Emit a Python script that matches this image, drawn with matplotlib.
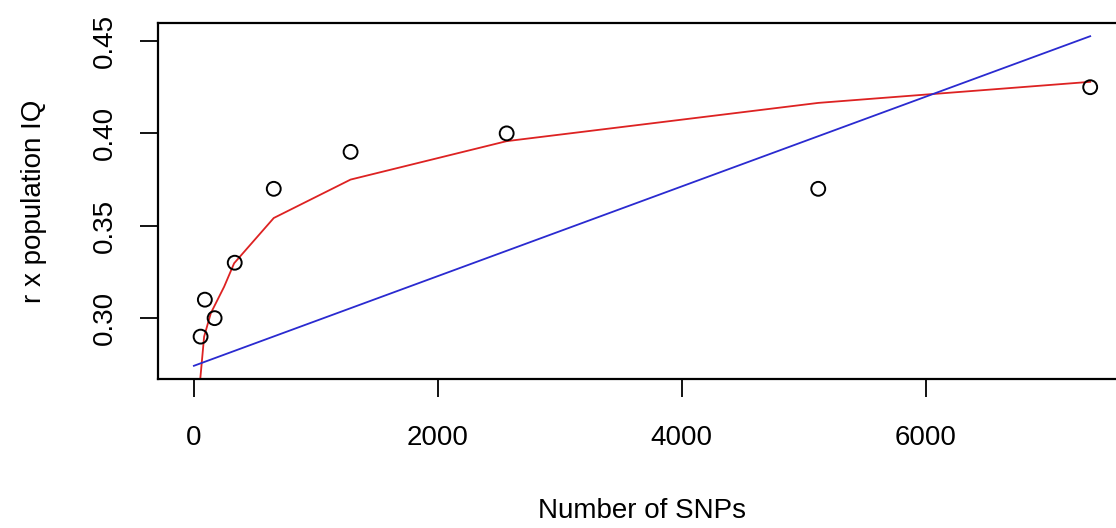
import matplotlib
matplotlib.use("Agg")
import matplotlib.pyplot as plt

plt.rcParams["font.family"] = ["Liberation Sans", "DejaVu Sans"]

# observed points
n_snps = [55, 90, 170, 335, 655, 1285, 2565, 5120, 7350]
r_iq = [0.29, 0.31, 0.30, 0.33, 0.37, 0.39, 0.40, 0.37, 0.425]

# log fit (red)
log_x = [40, 52, 84, 139, 248, 330, 655, 1285, 2565, 5120, 7350]
log_y = [0.255, 0.2668, 0.290, 0.3027, 0.317, 0.3297, 0.3542, 0.375, 0.3958, 0.4165, 0.4279]

# linear fit (blue)
lin_x = [0, 7350]
lin_y = [0.2742, 0.4526]

fig = plt.figure(figsize=(11.16, 5.28), dpi=100)
ax = fig.add_axes([0.1416, 0.2822, 0.8674, 0.6742])

ax.plot(log_x, log_y, color="#dd2222", lw=1.3)
ax.plot(lin_x, lin_y, color="#2a2ad0", lw=1.3)
ax.scatter(n_snps, r_iq, s=100, facecolors="none", edgecolors="black", linewidths=1.4, zorder=3)

xr = max(lin_x) - min(lin_x)
ax.set_xlim(min(lin_x) - 0.04 * xr, max(lin_x) + 0.04 * xr)
yr = max(lin_y) - min(lin_y)
ax.set_ylim(min(lin_y) - 0.04 * yr, max(lin_y) + 0.04 * yr)

ax.set_xticks([0, 2000, 4000, 6000])
ax.set_yticks([0.30, 0.35, 0.40, 0.45])
ax.set_yticklabels(["0.30", "0.35", "0.40", "0.45"], rotation=90, va="center")
ax.tick_params(length=13, width=1.3, labelsize=20, colors="black")
ax.tick_params(axis="x", pad=20)
ax.tick_params(axis="y", pad=16)
for s in ax.spines.values():
    s.set_linewidth(1.6)

ax.set_xlabel("Number of SNPs", fontsize=20, labelpad=34)
ax.set_ylabel("r x population IQ", fontsize=20, labelpad=32)

fig.savefig("out.png", dpi=100)
